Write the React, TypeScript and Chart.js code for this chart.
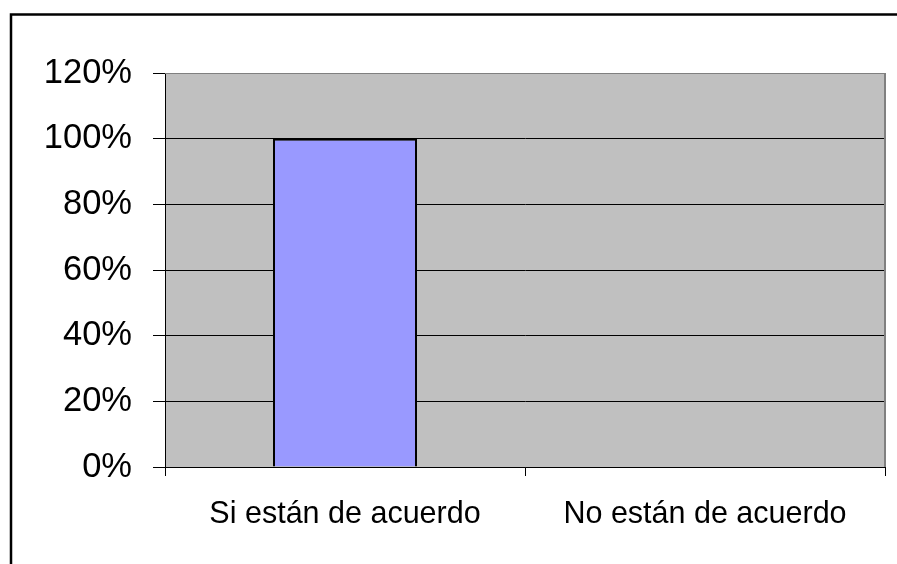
import React, { useEffect, useRef } from "react";
import { Chart, registerables } from "chart.js";

Chart.register(...registerables);

const categories = ["Si están de acuerdo", "No están de acuerdo"];
const values = [1.0, 0];
const yTicks = [0, 0.2, 0.4, 0.6, 0.8, 1.0, 1.2];

const FONT = "'Liberation Sans', Arial, Helvetica, sans-serif";

const framePlugin = {
  id: "frame",
  beforeDraw(chart: any) {
    const { ctx, chartArea } = chart;
    ctx.save();
    ctx.fillStyle = "#ffffff";
    ctx.fillRect(0, 0, chart.width, chart.height);
    ctx.fillStyle = "#c0c0c0";
    ctx.fillRect(chartArea.left, chartArea.top, chartArea.right - chartArea.left, chartArea.bottom - chartArea.top);
    ctx.strokeStyle = "#000000";
    ctx.lineWidth = 2.5;
    ctx.strokeRect(11, 14.5, chart.width + 50, chart.height + 50);
    ctx.restore();
  },
  afterDatasetsDraw(chart: any) {
    const { ctx, chartArea } = chart;
    ctx.save();
    ctx.strokeStyle = "#808080";
    ctx.lineWidth = 2;
    ctx.beginPath();
    ctx.moveTo(chartArea.right, chartArea.top);
    ctx.lineTo(chartArea.right, chartArea.bottom);
    ctx.stroke();
    ctx.lineWidth = 1;
    ctx.beginPath();
    ctx.moveTo(chartArea.left, chartArea.top + 0.5);
    ctx.lineTo(chartArea.right, chartArea.top + 0.5);
    ctx.stroke();
    ctx.restore();
  },
};

export default function App() {
  const ref = useRef<HTMLCanvasElement>(null);
  useEffect(() => {
    if (!ref.current) return;
    const chart = new Chart(ref.current, {
      type: "bar",
      data: {
        labels: categories,
        datasets: [
          {
            data: values,
            backgroundColor: "#9999ff",
            borderColor: "#000000",
            borderWidth: 2,
            borderSkipped: "bottom",
            barPercentage: 0.4,
            categoryPercentage: 1,
          },
        ],
      },
      options: {
        responsive: false,
        animation: false,
        layout: { padding: { left: 0, top: 73, right: 12, bottom: 0 } },
        plugins: { legend: { display: false }, tooltip: { enabled: false } },
        scales: {
          x: {
            grid: {
              display: true,
              drawOnChartArea: false,
              drawTicks: true,
              tickLength: 9,
              color: "#000000",
              offset: true,
            },
            border: { display: true, color: "#000000", width: 1 },
            ticks: {
              color: "#000000",
              padding: 20,
              font: { family: FONT, size: 30.5 },
              maxRotation: 0,
            },
            afterFit(scale: any) {
              scale.height = 97;
            },
          },
          y: {
            min: 0,
            max: 1.2,
            afterBuildTicks(scale: any) {
              scale.ticks = yTicks.map((v) => ({ value: v }));
            },
            grid: {
              color: (c: any) => (c.tick && Math.abs(c.tick.value - 1.2) < 1e-6 ? "#808080" : "#000000"),
              tickColor: "#000000",
              drawTicks: true,
              tickLength: 12,
              lineWidth: 1,
            },
            border: { display: true, color: "#000000", width: 1 },
            ticks: {
              color: "#000000",
              padding: 21,
              font: { family: FONT, size: 34.5 },
              callback: (v: any) => Math.round(Number(v) * 100) + "%",
            },
            afterFit(scale: any) {
              scale.width = 165;
            },
          },
        },
      },
      plugins: [framePlugin],
    });
    return () => chart.destroy();
  }, []);
  return (
    <div style={{ position: "absolute", left: 0, top: 0, width: 897, height: 564 }}>
      <canvas ref={ref} width={897} height={564} style={{ display: "block" }} />
    </div>
  );
}
